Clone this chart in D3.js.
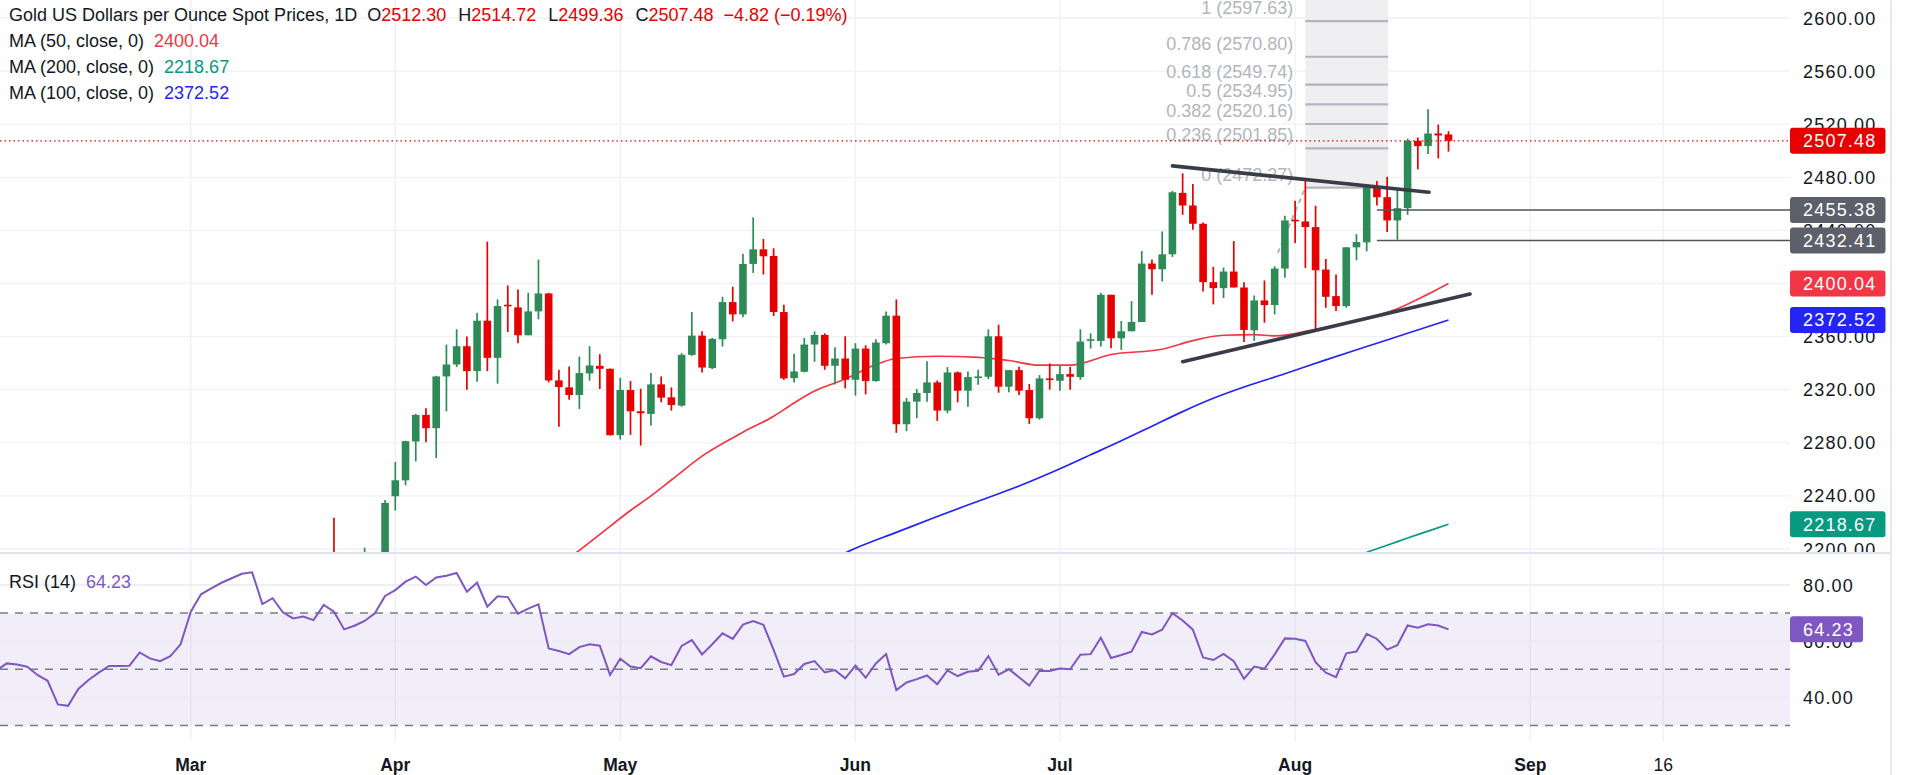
<!DOCTYPE html>
<html>
<head>
<meta charset="utf-8">
<script src="https://cdn.jsdelivr.net/npm/d3@7"></script>
<style>
html, body { margin: 0; padding: 0; background: #fff; }
svg { display: block; }
text { font-family: "Liberation Sans", Arial, sans-serif; }
</style>
</head>
<body>
<svg id="chart" width="1907" height="775"></svg>
<script>
// bar index 0 = 2 Feb 2024, one bar per trading day (no bar on 29 Mar)
const firstCandle = 34; // 21 Mar
const opens = [
    2186, 2181, 2165, 2172, 2179, 2194, 2239.75, 2251.75, 2281, 2301,
    2291, 2330, 2339, 2352.75, 2334, 2372, 2344, 2384, 2382, 2361,
    2379, 2392.5, 2327, 2321.75, 2316, 2332.25, 2338, 2335.75, 2285.75, 2319.75,
    2303.75, 2301.75, 2324, 2314.25, 2308, 2346.25, 2360.75, 2336.25, 2358, 2386,
    2376.75, 2414.75, 2425.75, 2420.75, 2378.5, 2328.75, 2333.5, 2354, 2361.25, 2338,
    2343.5, 2327.5, 2351, 2326.5, 2355, 2375.75, 2294, 2311, 2317.5, 2325.5,
    2304.25, 2333, 2319.25, 2329, 2329.75, 2360.25, 2322.25, 2334.75, 2319.75, 2298.5,
    2328.5, 2326.75, 2331.75, 2329.5, 2357, 2356.75, 2391.5, 2358.75, 2364, 2371,
    2415, 2410.75, 2422, 2468.25, 2458.75, 2445, 2401, 2396.5, 2409, 2397,
    2364.75, 2387.25, 2383.75, 2411.25, 2448, 2446.75, 2442.5, 2410.5, 2390.5, 2383,
    2427.25, 2431, 2473, 2465, 2447.5, 2456.75, 2507.5, 2503.5, 2513, 2512.30
];
const highs = [
    2223.5, 2183, 2176, 2201, 2197, 2237, 2265.5, 2281.5, 2301.75, 2306,
    2330.5, 2354, 2365.5, 2360, 2378, 2431.5, 2388, 2398.5, 2395.5, 2393,
    2418, 2393, 2335, 2337.5, 2345, 2352.75, 2346.75, 2336, 2329, 2326.5,
    2320.75, 2332.5, 2330, 2321.75, 2347.5, 2378.5, 2364, 2359, 2390, 2397.5,
    2422.5, 2449.75, 2433.5, 2426.5, 2384, 2347, 2359, 2364, 2362.5, 2352,
    2360.25, 2355, 2353.5, 2358, 2379, 2388, 2313.75, 2320.5, 2341.5, 2327,
    2337, 2333.75, 2333.75, 2335, 2365.5, 2369, 2334.75, 2337.25, 2324.25, 2331,
    2339.75, 2338.5, 2337.25, 2365.5, 2362.5, 2393, 2391.5, 2371.75, 2386.75, 2424.5,
    2418, 2439.25, 2469.75, 2483, 2475, 2446, 2412.5, 2412, 2432, 2401,
    2391, 2402.25, 2413, 2451, 2462.25, 2478, 2458.5, 2418.5, 2406.75, 2427.25,
    2437.25, 2474.25, 2477.25, 2480.5, 2470.5, 2509.25, 2510, 2531.25, 2519.75, 2514.72
];
const lows = [
    2168, 2157, 2163, 2169, 2173, 2186, 2229, 2248, 2266, 2280.5,
    2268.5, 2303.75, 2337, 2320, 2326, 2334, 2324.5, 2363.5, 2355, 2361,
    2373, 2325.5, 2292, 2312.5, 2305.5, 2326.75, 2320.5, 2285.5, 2282.5, 2286,
    2278, 2293, 2310.5, 2304.25, 2307.25, 2345.5, 2333, 2335.5, 2352.5, 2371.5,
    2374.5, 2408, 2406.75, 2375.5, 2327.5, 2325.5, 2333, 2341, 2335, 2324,
    2321, 2315.5, 2316.5, 2326, 2354, 2287.5, 2288.75, 2298.5, 2311, 2296.5,
    2302.25, 2310.5, 2307.25, 2323.75, 2328, 2317.75, 2318, 2316, 2294.25, 2297.5,
    2320, 2319.25, 2320, 2327.5, 2351, 2352.5, 2351.25, 2350, 2364, 2371,
    2391.5, 2401.5, 2420, 2451.75, 2440.5, 2394, 2384.25, 2389, 2397, 2356,
    2356.75, 2370.5, 2376.75, 2404.25, 2430.5, 2411.75, 2365.5, 2381.75, 2379.25, 2381.75,
    2417.5, 2424.25, 2458.75, 2438.75, 2433, 2451.75, 2486, 2497.5, 2494.25, 2499.36
];
const closes = [
    2181, 2165, 2172, 2179, 2194, 2234.7, 2251.75, 2281.25, 2301, 2291,
    2330, 2339, 2352.75, 2334, 2372, 2344, 2383, 2383, 2361, 2379,
    2392.5, 2327, 2322, 2316, 2332.5, 2338.25, 2335.75, 2285.75, 2319.75, 2303.75,
    2302.25, 2324, 2314, 2308.5, 2346.25, 2360.75, 2336.75, 2358.25, 2386, 2376.75,
    2414.75, 2425.75, 2420.5, 2378.5, 2328.5, 2333.75, 2354, 2361.25, 2338, 2343.5,
    2327.5, 2351, 2326.5, 2355.5, 2375.75, 2294, 2311, 2317.5, 2325.5, 2304.25,
    2333, 2319.25, 2329.5, 2330, 2360.25, 2322.25, 2334.75, 2319.25, 2298.5, 2328.5,
    2327.25, 2331.75, 2329.75, 2356.25, 2358, 2391.5, 2358.75, 2364, 2371, 2415,
    2410.75, 2422, 2468.75, 2458.75, 2445, 2401, 2396.5, 2409, 2397, 2365,
    2387.25, 2383.75, 2411.25, 2447.5, 2447, 2442.5, 2410, 2390, 2383, 2427.25,
    2431.25, 2473, 2465, 2447.5, 2456.75, 2507.5, 2503.5, 2513, 2511.5, 2507.48
];

// RSI(14), one value per bar starting at bar 1
const firstRsi = 1;
const rsiValues = [
    49.6, 52.1, 51.7, 50.9, 48.0, 45.9, 37.5, 37.0, 43.0, 46.2,
    48.8, 51.2, 51.2, 51.3, 56.0, 53.9, 52.9, 54.7, 58.9, 70.5,
    76.7, 78.8, 80.8, 82.4, 84.0, 84.5, 73.2, 75.3, 70.3, 68.1,
    68.8, 67.5, 72.9, 70.5, 64.2, 65.5, 67.2, 69.9, 76.1, 78.2,
    81.2, 83.0, 80.0, 82.7, 83.3, 84.3, 77.6, 80.8, 72.3, 76.0,
    75.7, 69.8, 71.6, 73.1, 57.4, 56.5, 55.4, 57.9, 58.9, 58.4,
    48.0, 53.8, 51.0, 50.4, 54.6, 52.6, 51.5, 58.3, 60.4, 55.3,
    58.9, 62.8, 60.8, 65.9, 67.2, 65.8, 56.9, 47.4, 48.3, 51.9,
    52.9, 48.9, 49.7, 46.8, 51.3, 47.0, 52.1, 55.4, 42.6, 45.3,
    46.5, 47.8, 44.7, 49.6, 47.6, 49.1, 49.5, 54.7, 48.1, 50.0,
    47.2, 44.2, 49.5, 49.4, 50.3, 50.0, 55.2, 55.4, 61.2, 54.0,
    55.1, 56.3, 63.3, 62.4, 64.1, 70.0, 67.4, 64.1, 54.2, 53.3,
    55.5, 52.9, 46.6, 51.0, 50.2, 55.3, 61.0, 60.9, 60.1, 52.5,
    48.8, 47.2, 55.7, 56.3, 62.6, 60.8, 57.0, 58.6, 65.6, 64.8,
    66.0, 65.6, 64.23
];

// moving averages as [bar, value]
const ma50 = [[57, 2193], [58, 2199], [60, 2211], [63, 2229], [65, 2240], [67, 2252], [70, 2270],
    [74, 2288], [77, 2300], [79, 2310], [81, 2319], [84, 2328], [87, 2339], [89, 2343.5],
    [93, 2345.2], [97, 2344.4], [100, 2342], [103, 2338.5], [106, 2338.5], [110, 2346.5],
    [115, 2350.5], [118, 2357], [121, 2361], [124, 2361.5], [126, 2360.5], [130, 2365.5],
    [134, 2372], [138, 2381], [141, 2392], [143, 2400.04]];
const ma100 = [[84, 2197], [85, 2200.5], [89, 2212.5], [93, 2224.5], [97, 2236], [101, 2247.5],
    [105, 2260.5], [108, 2271], [111, 2281.5], [114, 2292.5], [117, 2303.5], [120, 2313.5],
    [123, 2322], [127, 2332], [131, 2342.5], [135, 2352.5], [139, 2362.5], [143, 2372.52]];
const ma200 = [[135, 2197.6], [137, 2202.8], [139, 2208.3], [141, 2213.5], [143, 2218.67]];

const timeTicks = [
    { bar: 20, label: "Mar", bold: true },
    { bar: 40, label: "Apr", bold: true },
    { bar: 62, label: "May", bold: true },
    { bar: 85, label: "Jun", bold: true },
    { bar: 105, label: "Jul", bold: true },
    { bar: 128, label: "Aug", bold: true },
    { bar: 151, label: "Sep", bold: true },
    { bar: 164, label: "16", bold: false }
];
const priceTicks = [2200, 2240, 2280, 2320, 2360, 2400, 2440, 2480, 2520, 2560, 2600];
const rsiTicks = [40, 60, 80];
const rsiBands = [70, 50, 30];

// drawings
const fibLevels = [
    { ratio: "1", price: 2597.63 }, { ratio: "0.786", price: 2570.80 },
    { ratio: "0.618", price: 2549.74 }, { ratio: "0.5", price: 2534.95 },
    { ratio: "0.382", price: 2520.16 }, { ratio: "0.236", price: 2501.85 },
    { ratio: "0", price: 2472.27 }
];
const fibBars = [129, 137.1];
const fibTrend = [[126.3, 2423], [129, 2472.27]];
const upperTrend = [[116, 2488.6], [141.1, 2468.8]];
const lowerTrend = [[117, 2341.1], [145.1, 2392.1]];
const levelStart = 136;
const levels = [2455.38, 2432.41];

const last = { o: 2512.30, h: 2514.72, l: 2499.36, c: 2507.48, chg: -4.82, pct: -0.19 };
const maLegend = [
    { name: "MA (50, close, 0)", value: 2400.04, color: "#f23645" },
    { name: "MA (200, close, 0)", value: 2218.67, color: "#089981" },
    { name: "MA (100, close, 0)", value: 2372.52, color: "#2424f5" }
];
const rsiLast = 64.23;

// ---------------------------------------------------------------
const W = 1907, plotRight = 1790, axisRight = 1891;
const priceTop = 0, priceBottom = 552, rsiTop = 554, rsiBottom = 742;
const upColor = "#2e8b57", downColor = "#e60000";
const gridColor = "#f0f1f4", textColor = "#131722";

const svg = d3.select("#chart");
svg.append("rect").attr("width", W).attr("height", 775).attr("fill", "#fff");

const x = d3.scaleLinear().domain([40, 143]).range([395.3, 1448.5]);
const y = d3.scaleLinear().domain([2200, 2600]).range([549, 18]);
const yR = d3.scaleLinear().domain([30, 80]).range([725.5, 585]);

const defs = svg.append("defs");
defs.append("clipPath").attr("id", "clipPrice").append("rect")
    .attr("x", 0).attr("y", priceTop).attr("width", plotRight).attr("height", priceBottom - priceTop);
defs.append("clipPath").attr("id", "clipRsi").append("rect")
    .attr("x", 0).attr("y", rsiTop).attr("width", plotRight).attr("height", rsiBottom - rsiTop);
defs.append("clipPath").attr("id", "clipPriceAxis").append("rect")
    .attr("x", plotRight).attr("y", priceTop).attr("width", axisRight - plotRight).attr("height", priceBottom - priceTop);
defs.append("clipPath").attr("id", "clipRsiAxis").append("rect")
    .attr("x", plotRight).attr("y", rsiTop).attr("width", axisRight - plotRight).attr("height", rsiBottom - rsiTop);

// grid
const grid = svg.append("g");
grid.selectAll("line.v").data(timeTicks).join("line")
    .attr("x1", (d) => x(d.bar)).attr("x2", (d) => x(d.bar))
    .attr("y1", 0).attr("y2", rsiBottom)
    .attr("stroke", gridColor).attr("stroke-width", 1.3);
grid.selectAll("line.h").data(priceTicks).join("line")
    .attr("x1", 0).attr("x2", plotRight)
    .attr("y1", (d) => y(d)).attr("y2", (d) => y(d))
    .attr("stroke", gridColor).attr("stroke-width", 1.3)
    .attr("clip-path", "url(#clipPrice)");

// ---------------- price pane ----------------
const pricePane = svg.append("g").attr("clip-path", "url(#clipPrice)");

// fib retracement
pricePane.append("rect")
    .attr("x", x(fibBars[0])).attr("width", x(fibBars[1]) - x(fibBars[0]))
    .attr("y", 0).attr("height", y(fibLevels[fibLevels.length - 1].price))
    .attr("fill", "#efeff2");
pricePane.selectAll("line.fib").data(fibLevels).join("line")
    .attr("x1", x(fibBars[0])).attr("x2", x(fibBars[1]))
    .attr("y1", (d) => y(d.price)).attr("y2", (d) => y(d.price))
    .attr("stroke", "#b2b5be").attr("stroke-width", 2.2);
pricePane.selectAll("text.fib").data(fibLevels).join("text")
    .attr("x", x(fibBars[0]) - 12).attr("y", (d) => y(d.price) - 7)
    .attr("text-anchor", "end").attr("font-size", 18).attr("fill", "#b2b5be")
    .text((d) => `${d.ratio} (${d.price.toFixed(2)})`);
pricePane.append("path")
    .attr("d", d3.line().x((d) => x(d[0])).y((d) => y(d[1]))(fibTrend))
    .attr("fill", "none").attr("stroke", "#b2b5be").attr("stroke-width", 2)
    .attr("stroke-dasharray", "5,4");

// moving averages
const maLine = d3.line().x((d) => x(d[0])).y((d) => y(d[1])).curve(d3.curveMonotoneX);
[[ma50, "#f23645"], [ma100, "#2424f5"], [ma200, "#089981"]].forEach(([pts, color]) => {
    pricePane.append("path").attr("d", maLine(pts))
        .attr("fill", "none").attr("stroke", color).attr("stroke-width", 1.7);
});

// candles
const candles = opens.map((o, k) => ({
    bar: firstCandle + k, o: o, h: highs[k], l: lows[k], c: closes[k]
}));
const bodyW = 7.6;
const candle = pricePane.append("g").selectAll("g").data(candles).join("g");
candle.append("line")
    .attr("x1", (d) => x(d.bar)).attr("x2", (d) => x(d.bar))
    .attr("y1", (d) => y(d.h)).attr("y2", (d) => y(d.l))
    .attr("stroke", (d) => (d.c >= d.o ? upColor : downColor))
    .attr("stroke-width", 1.7);
candle.append("rect")
    .attr("x", (d) => x(d.bar) - bodyW / 2).attr("width", bodyW)
    .attr("y", (d) => y(Math.max(d.o, d.c)))
    .attr("height", (d) => Math.max(1.6, Math.abs(y(d.o) - y(d.c))))
    .attr("fill", (d) => (d.c >= d.o ? upColor : downColor));

// trend lines
[upperTrend, lowerTrend].forEach((pts) => {
    pricePane.append("path")
        .attr("d", d3.line().x((d) => x(d[0])).y((d) => y(d[1]))(pts))
        .attr("stroke", "#3a3d48").attr("stroke-width", 3.6)
        .attr("stroke-linecap", "round").attr("fill", "none");
});

// horizontal levels
pricePane.selectAll("line.level").data(levels).join("line")
    .attr("x1", x(levelStart)).attr("x2", plotRight)
    .attr("y1", (d) => y(d)).attr("y2", (d) => y(d))
    .attr("stroke", "#50535e").attr("stroke-width", 1.4);

// last price line
pricePane.append("line")
    .attr("x1", 0).attr("x2", plotRight)
    .attr("y1", y(last.c)).attr("y2", y(last.c))
    .attr("stroke", downColor).attr("stroke-width", 1.3)
    .attr("stroke-dasharray", "1.5,3");

// ---------------- RSI pane ----------------
const rsiPane = svg.append("g").attr("clip-path", "url(#clipRsi)");
rsiPane.append("rect")
    .attr("x", 0).attr("width", plotRight)
    .attr("y", yR(70)).attr("height", yR(30) - yR(70))
    .attr("fill", "rgba(126,87,194,0.1)");
rsiPane.selectAll("line.g").data(rsiTicks).join("line")
    .attr("x1", 0).attr("x2", plotRight)
    .attr("y1", (d) => yR(d)).attr("y2", (d) => yR(d))
    .attr("stroke", "#e9e9ef").attr("stroke-width", 1.3);
rsiPane.selectAll("line.band").data(rsiBands).join("line")
    .attr("x1", 0).attr("x2", plotRight)
    .attr("y1", (d) => yR(d)).attr("y2", (d) => yR(d))
    .attr("stroke", "#787b86").attr("stroke-width", 1.5)
    .attr("stroke-dasharray", "8,7");
rsiPane.append("path")
    .datum(rsiValues)
    .attr("d", d3.line().x((d, k) => x(firstRsi + k)).y((d) => yR(d)))
    .attr("fill", "none").attr("stroke", "#7e57c2").attr("stroke-width", 2);

// ---------------- frame ----------------
svg.append("line").attr("x1", 0).attr("x2", axisRight)
    .attr("y1", 553).attr("y2", 553).attr("stroke", "#e0e3eb").attr("stroke-width", 2);
svg.append("line").attr("x1", axisRight).attr("x2", axisRight)
    .attr("y1", 0).attr("y2", 775).attr("stroke", "#e0e3eb").attr("stroke-width", 1.5);

// ---------------- axes ----------------
const axisFont = 18, axisSpacing = 1.2;
svg.append("g").attr("clip-path", "url(#clipPriceAxis)")
    .selectAll("text").data(priceTicks).join("text")
    .attr("x", plotRight + 13).attr("y", (d) => y(d) + 6.5)
    .attr("font-size", axisFont).attr("letter-spacing", axisSpacing)
    .attr("fill", textColor).text((d) => d.toFixed(2));
svg.append("g").attr("clip-path", "url(#clipRsiAxis)")
    .selectAll("text").data(rsiTicks).join("text")
    .attr("x", plotRight + 13).attr("y", (d) => yR(d) + 6.5)
    .attr("font-size", axisFont).attr("letter-spacing", axisSpacing)
    .attr("fill", textColor).text((d) => d.toFixed(2));

svg.append("g").selectAll("text").data(timeTicks).join("text")
    .attr("x", (d) => x(d.bar)).attr("y", 771)
    .attr("text-anchor", "middle").attr("font-size", 17.5)
    .attr("font-weight", (d) => (d.bold ? "bold" : "normal"))
    .attr("fill", textColor).text((d) => d.label);

// price tags on the scale
const priceTags = [
    { v: last.c, color: downColor, scale: y },
    { v: levels[0], color: "#5d606b", scale: y },
    { v: levels[1], color: "#5d606b", scale: y },
    { v: maLegend[0].value, color: "#f23645", scale: y },
    { v: maLegend[2].value, color: "#2424f5", scale: y },
    { v: maLegend[1].value, color: "#089981", scale: y },
    { v: rsiLast, color: "#7e57c2", scale: yR }
];
const tags = svg.append("g").selectAll("g").data(priceTags).join("g");
tags.append("text")
    .attr("x", plotRight + 13).attr("y", (d) => d.scale(d.v) + 6.5)
    .attr("font-size", axisFont).attr("letter-spacing", axisSpacing)
    .attr("fill", "#fff").text((d) => d.v.toFixed(2));
tags.each(function () {
    const g = d3.select(this);
    const d = g.datum();
    const w = g.select("text").node().getComputedTextLength();
    g.insert("rect", "text")
        .attr("x", plotRight).attr("y", d.scale(d.v) - 13)
        .attr("width", w + 22).attr("height", 26).attr("rx", 3)
        .attr("fill", d.color);
});

// ---------------- legends ----------------
const fmt = (v) => v.toFixed(2).replace("-", "\u2212");
const title = svg.append("text").attr("x", 9).attr("y", 21)
    .attr("font-size", 18).attr("fill", textColor);
title.append("tspan").text("Gold US Dollars per Ounce Spot Prices, 1D");
[["O", last.o], ["H", last.h], ["L", last.l], ["C", last.c]].forEach(([k, v], n) => {
    title.append("tspan").attr("dx", n === 0 ? 10 : 12).text(k);
    title.append("tspan").attr("fill", downColor).text(v.toFixed(2));
});
title.append("tspan").attr("dx", 10).attr("fill", downColor)
    .text(`${fmt(last.chg)} (${fmt(last.pct)}%)`);

maLegend.forEach((m, n) => {
    const t = svg.append("text").attr("x", 9).attr("y", 47 + n * 26)
        .attr("font-size", 18).attr("fill", textColor);
    t.append("tspan").text(m.name);
    t.append("tspan").attr("dx", 10).attr("fill", m.color).text(m.value.toFixed(2));
});

const rsiLabel = svg.append("text").attr("x", 9).attr("y", 588)
    .attr("font-size", 18).attr("fill", textColor);
rsiLabel.append("tspan").text("RSI (14)");
rsiLabel.append("tspan").attr("dx", 10).attr("fill", "#7e57c2").text(rsiLast.toFixed(2));
</script>
</body>
</html>
